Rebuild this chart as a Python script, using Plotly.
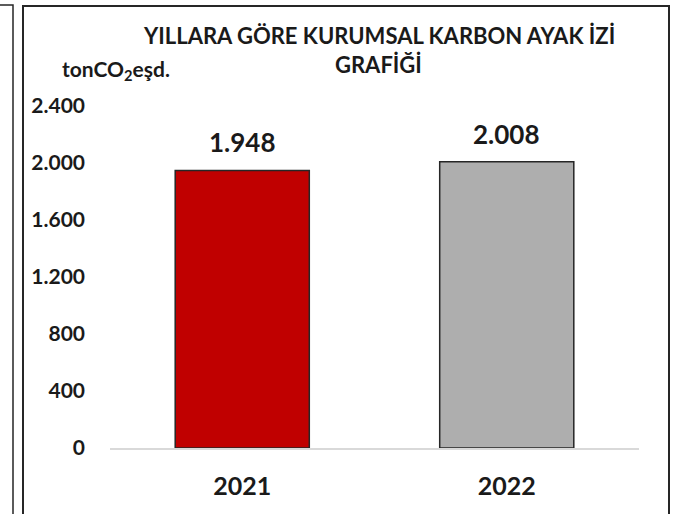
import plotly.graph_objects as go

years = ["2021", "2022"]
values = [1948, 2008]
bar_colors = ["#C00000", "#AEAEAE"]
y_ticks = [0, 400, 800, 1200, 1600, 2000, 2400]
title_line1 = "YILLARA GÖRE KURUMSAL KARBON AYAK İZİ"
title_line2 = "GRAFİĞİ"
unit_label = "tonCO<sub>2</sub>eşd."

FONT = "Lato"
W, H = 677, 514
L, R, T, B = 110, 38, 106, 66
pw = W - L - R
ph = H - T - B

def px_x(x):
    return (x - L) / pw

def px_y(y):
    return (H - B - y) / ph

fig = go.Figure()
fig.add_trace(go.Bar(
    x=years, y=values,
    marker=dict(color=bar_colors, line=dict(color="#262626", width=1.5)),
    hoverinfo="skip",
))

# value labels above bars (category index positions)
for i, yv in enumerate(values):
    fig.add_annotation(
        x=i, y=yv, xref="x", yref="y",
        text=f"{yv:,}".replace(",", "."),
        showarrow=False, yanchor="bottom", yshift=10,
        font=dict(family=FONT, size=26, color="#1a1a1a", weight="bold"),
    )

fig.add_annotation(x=px_x(379), y=px_y(35), xref="paper", yref="paper",
                   text=title_line1, showarrow=False, xanchor="center", yanchor="middle",
                   font=dict(family=FONT, size=22, color="#1a1a1a", weight="bold"))
fig.add_annotation(x=px_x(378), y=px_y(64), xref="paper", yref="paper",
                   text=title_line2, showarrow=False, xanchor="center", yanchor="middle",
                   font=dict(family=FONT, size=22, color="#1a1a1a", weight="bold"))
fig.add_annotation(x=px_x(60), y=px_y(70), xref="paper", yref="paper",
                   text=unit_label, showarrow=False, xanchor="left", yanchor="middle",
                   font=dict(family=FONT, size=21, color="#1a1a1a", weight="bold"))

# chart frame
fig.add_shape(type="rect", xref="paper", yref="paper",
              x0=px_x(23), x1=px_x(669), y0=px_y(530), y1=px_y(6),
              line=dict(color="#262626", width=2), layer="above")
# neighbouring frame on the left
fig.add_shape(type="rect", xref="paper", yref="paper",
              x0=px_x(-50), x1=px_x(13), y0=px_y(530), y1=px_y(5),
              line=dict(color="#262626", width=1.5), layer="above")

fig.update_layout(
    width=W, height=H,
    margin=dict(l=L, r=R, t=T, b=B, autoexpand=False),
    paper_bgcolor="white", plot_bgcolor="white",
    showlegend=False,
    separators=",.",
    bargap=0.493,
    font=dict(family=FONT, color="#1a1a1a"),
    xaxis=dict(
        type="category", range=[-0.5, 1.5],
        showline=True, linecolor="#D9D9D9", linewidth=2,
        showgrid=False, ticks="", fixedrange=True,
        tickfont=dict(family=FONT, size=25, color="#1a1a1a", weight="bold"),
        ticklabelstandoff=15,
    ),
    yaxis=dict(
        range=[0, 2400], tickvals=y_ticks, tickformat=",d",
        showgrid=False, zeroline=False, showline=False, ticks="",
        tickfont=dict(family=FONT, size=21, color="#1a1a1a", weight="bold"),
        ticklabelstandoff=24, fixedrange=True,
    ),
)

fig.write_html("out.html", config={"displayModeBar": False},
               post_script="document.body.style.margin='0';document.body.style.overflow='hidden';")
